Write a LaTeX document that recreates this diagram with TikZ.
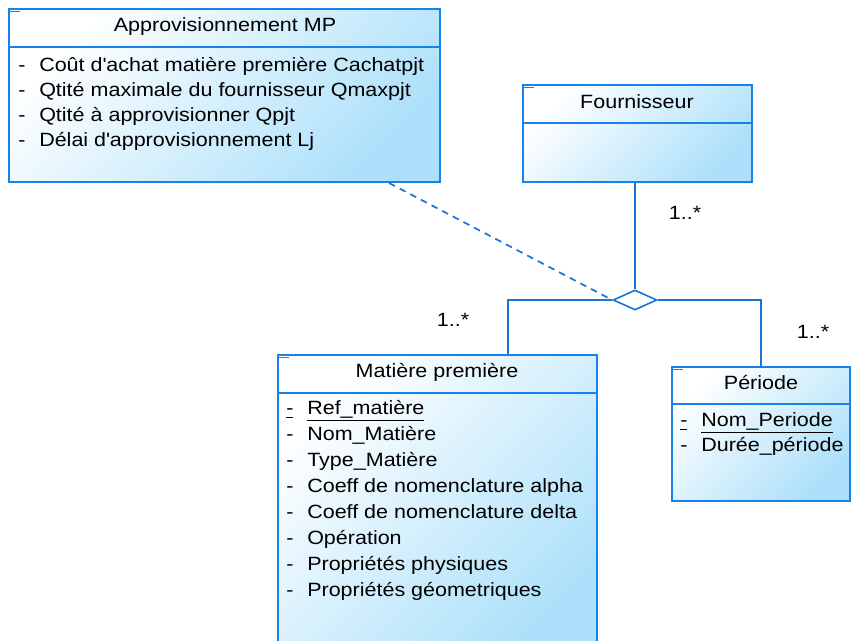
\documentclass[tikz,border=0pt]{standalone}
\usepackage{fontspec}
\setmainfont[FakeStretch=1.12]{Liberation Sans}
\usetikzlibrary{shapes.geometric,fit,calc}
\definecolor{umlblue}{RGB}{24,130,235}
\definecolor{umlline}{RGB}{26,118,212}
\definecolor{umlfill}{RGB}{172,224,250}
\begin{document}
\begin{tikzpicture}[x=0.75pt,y=-0.75pt,
  classbox/.style={draw=umlblue,line width=1.5pt,inner sep=0pt,top color=white,bottom color=umlfill,shading angle=45},
  sepline/.style={draw=umlblue,line width=1.5pt},
  tickmark/.style={draw=umlblue,line width=1pt},
  title/.style={anchor=base,inner sep=0pt,font=\fontsize{14.4pt}{17pt}\selectfont},
  attr/.style={anchor=base west,inner sep=0pt,font=\fontsize{14.4pt}{17pt}\selectfont},
  mult/.style={anchor=base,inner sep=0pt,font=\fontsize{14.4pt}{17pt}\selectfont},
  assoc/.style={diamond,draw=umlline,fill=white,line width=1.2pt,inner sep=0pt,minimum width=33pt,minimum height=15pt},
  link/.style={draw=umlline,line width=1.3pt}]
  \useasboundingbox (0,0) rectangle (851,641);
  % classes
  \node[classbox,fit={(9,9) (440,182)}] (appro) {};
  \node[classbox,fit={(523,85) (752,182)}] (four) {};
  \node[classbox,fit={(278,355) (597,660)}] (mat) {};
  \node[classbox,fit={(672,367) (850,501)}] (per) {};
  \foreach \b/\y in {appro/47,four/123,mat/393,per/404}
    \draw[sepline] (\b.west |- 0,\y) -- (\b.east |- 0,\y);
  \foreach \b in {appro,four,mat,per}
    \draw[tickmark] ([yshift=-2.5pt]\b.north west) -- ++(12,0);
  \node[title] (approT) at (225,32) {Approvisionnement MP};
  \node[title] (fourT) at (637,109) {Fournisseur};
  \node[title] (matT) at (437,378) {Matière première};
  \node[title] (perT) at (761,390) {Période};
  % attributes
  \foreach \t [count=\i from 0] in {Coût d\textquotesingle achat matière première Cachatpjt,Qtité maximale du fournisseur Qmaxpjt,Qtité à approvisionner Qpjt,Délai d\textquotesingle approvisionnement Lj}{
    \node[attr] (apD\i) at (18,72+25*\i) {-};
    \node[attr] (apA\i) at (39,72+25*\i) {\t};
  }
  \foreach \d/\t [count=\i from 0] in {\underline{-}/\underline{Ref\_matière},-/Nom\_Matière,-/Type\_Matière,-/Coeff de nomenclature alpha,-/Coeff de nomenclature delta,-/Opération,-/Propriétés physiques,-/Propriétés géometriques}{
    \node[attr] (maD\i) at (286,415+26*\i) {\d};
    \node[attr] (maA\i) at (307,415+26*\i) {\t};
  }
  \foreach \d/\t [count=\i from 0] in {\underline{-}/\underline{Nom\_Periode},-/Durée\_période}{
    \node[attr] (peD\i) at (680,427+25*\i) {\d};
    \node[attr] (peA\i) at (701,427+25*\i) {\t};
  }
  % association
  \node[assoc] (assoc) at (635,300) {};
  \draw[link] (assoc.north |- four.south) -- (assoc.north);
  \draw[link] (assoc.west) -| ($(mat.north west)!.72!(mat.north east)$);
  \draw[link] (assoc.east) -| (per.north);
  \draw[link,dash pattern=on 5pt off 4pt] ($(appro.south west)!.88!(appro.south east)$) -- (assoc.west);
  \node[mult] (m1) at (685,220) {1..*};
  \node[mult] (m2) at (453,327) {1..*};
  \node[mult] (m3) at (813,339) {1..*};
\end{tikzpicture}
\end{document}
